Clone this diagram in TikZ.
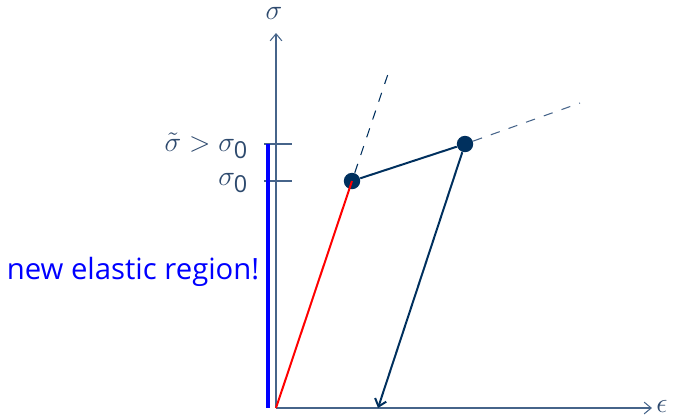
\documentclass[tikz,border=0pt]{standalone}
\usepackage{fontspec}
\setmainfont{Open Sans}
\usetikzlibrary{arrows.meta}
\definecolor{navy}{HTML}{00305E}
\definecolor{slate}{HTML}{46648A}
\definecolor{lblc}{HTML}{2E4A6E}
\newcommand{\zr}{\mbox{\fontsize{10}{10}\selectfont 0}}
\tikzset{
  axis/.style={draw=slate, line width=0.45pt, -{Straight Barb[length=3pt,width=5pt]}},
  tick/.style={draw=slate, line width=0.45pt},
  pt/.style={circle, fill=navy, inner sep=0pt, minimum size=7pt},
  seg/.style={draw=navy, line width=0.85pt},
  ext/.style={draw=navy, line width=0.45pt, dash pattern=on 4pt off 4pt},
  lbl/.style={text=lblc, font=\fontsize{13}{15}\selectfont, anchor=east, inner sep=0pt}
}
\begin{document}
\begin{tikzpicture}[x=0.015cm,y=-0.015cm]
\useasboundingbox (0,0) rectangle (676,415);
\coordinate (O) at (276,408);
\coordinate (xend) at (652,408);
\coordinate (yend) at (276,33);
\draw[axis] (O) -- (xend);
\draw[axis] (O) -- (yend);
\node[text=lblc, font=\fontsize{13}{15}\selectfont, inner sep=0pt] (eps) at (662,406) {$\epsilon$};
\node[text=lblc, font=\fontsize{13}{15}\selectfont, inner sep=0pt] (sig) at (274,13) {$\sigma$};
% ticks
\coordinate (t1a) at (264,181); \coordinate (t1b) at (292,181);
\coordinate (t2a) at (264,144); \coordinate (t2b) at (292,144);
\draw[tick] (t1a) -- (t1b);
\draw[tick] (t2a) -- (t2b);
\node[lbl] (l1) at (249,183) {$\sigma_{\zr}$};
\node[lbl] (l2) at (249,146) {$\tilde\sigma \mathrel{>} \sigma_{\zr}$};
% blue region
\coordinate (b1) at (268,144); \coordinate (b2) at (268,408);
\draw[blue, line width=1.3pt] (b1) -- (b2);
\node[text=blue, font=\fontsize{12.5}{14}\selectfont] (ner) at (133,272) {new elastic region!};
% points
\node[pt] (p1) at (352,181) {};
\node[pt] (p2) at (465,144) {};
\coordinate (d1) at (390,68);
\coordinate (d2) at (580,103);
\coordinate (r) at (378,408);
\draw[red, line width=0.85pt] (O) -- (p1.center);
\draw[seg] (p1) -- (p2);
\draw[seg, -{Straight Barb[length=3pt,width=5pt]}] (p2) -- (r);
\draw[ext] (p1) -- (d1);
\draw[ext, draw=slate] (p2) -- (d2);
\end{tikzpicture}
\end{document}
